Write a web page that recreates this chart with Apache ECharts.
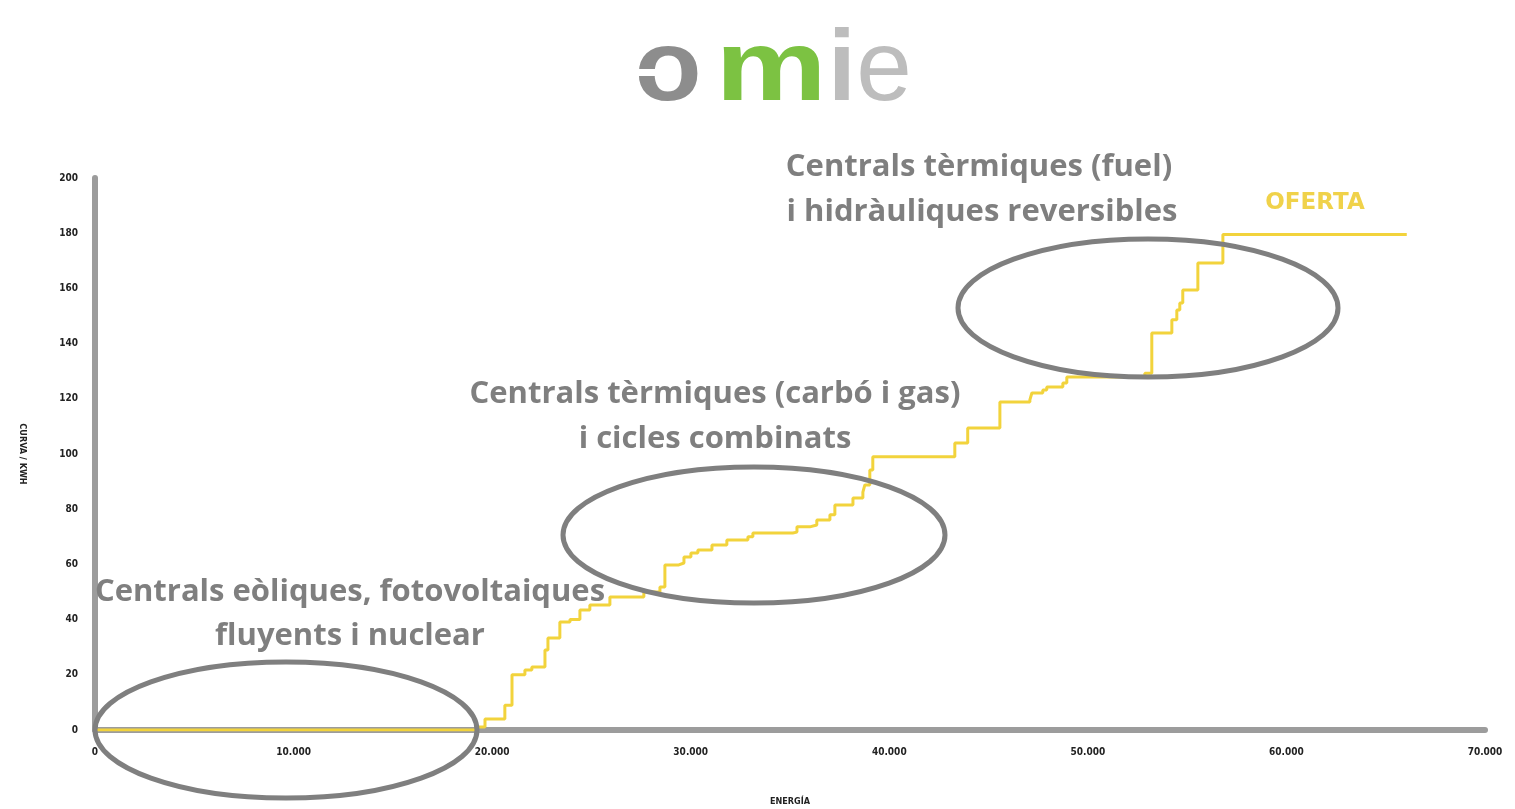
<!DOCTYPE html>
<html>
<head>
<meta charset="utf-8">
<script src="https://cdn.jsdelivr.net/npm/echarts@6/dist/echarts.min.js"></script>
<style>
html,body{margin:0;padding:0;background:#fff;}
#c{width:1515px;height:809px;}
</style>
</head>
<body>
<div id="c"></div>
<script>
// Energy (MWh) where each price level starts
const energy = [0, 19230, 19640, 20640, 21000, 21650, 22000, 22660, 22810, 23410, 23920, 24420, 24920, 25930, 27640, 28450, 28700, 29400, 29660, 30010, 30360, 31070, 31820, 32880, 33130, 35140, 35350, 36000, 36350, 37010, 37260, 38170, 38670, 38770, 39020, 39170, 43300, 43950, 45570, 47080, 47180, 47730, 47930, 48740, 48940, 52870, 53220, 54230, 54480, 54630, 54780, 55540, 56800, 66060];
// Offer price level (curva / kWh)
const price = [0, 1.1, 4, 9, 20, 21.7, 22.8, 29, 33.3, 39.1, 40, 43.5, 45.3, 48.2, 50, 51.8, 59.8, 60.5, 62.7, 64.1, 65.2, 67, 68.8, 70, 71.4, 71.7, 73.6, 74.3, 76.1, 78, 81.5, 84.1, 86.2, 88.8, 94.2, 99, 104, 109.4, 118.8, 119.6, 122.1, 123.2, 124.3, 125.7, 127.9, 129.3, 143.8, 148.6, 152.2, 154.7, 159.4, 169.2, 179.5, 179.5];
const xTicks = [0, 10000, 20000, 30000, 40000, 50000, 60000, 70000];
const yTicks = [0, 20, 40, 60, 80, 100, 120, 140, 160, 180, 200];
const seriesName = 'OFERTA';
const xName = 'ENERGÍA';
const yName = 'CURVA / KWH';
const annotations = [
  ['Centrals eòliques, fotovoltaiques', 'fluyents i nuclear'],
  ['Centrals tèrmiques (carbó i gas)', 'i cicles combinats'],
  ['Centrals tèrmiques (fuel)', 'i hidràuliques reversibles']
];

const points = energy.map((e, i) => [e, price[i]]);
const chart = echarts.init(document.getElementById('c'));
const gray = '#7f7f7f';
const yellow = '#f2d33c';
const annFont = {fontFamily: 'Open Sans', fontWeight: 'bold', fontSize: 31};
function annText(txt, x, y) {
  return {type: 'text', x: x, y: y, z: 100,
    style: Object.assign({text: txt, fill: gray, align: 'center', verticalAlign: 'middle'}, annFont)};
}
function ell(cx, cy, rx, ry) {
  return {type: 'ellipse', z: 90, shape: {cx: cx, cy: cy, rx: rx, ry: ry},
    style: {fill: 'none', stroke: gray, lineWidth: 5}};
}
const logoFont = {fontFamily: 'Liberation Sans', fontSize: 100};
const tickFont = {fontFamily: 'DejaVu Sans Condensed', fontWeight: 'bold', fontSize: 10, color: '#222'};
const option = {
  backgroundColor: '#fff',
  animation: false,
  grid: {left: 95, right: 30, top: 178, bottom: 79, outerBoundsMode: 'none', containLabel: false},
  xAxis: {
    type: 'value', min: xTicks[0], max: xTicks[xTicks.length - 1], interval: 10000,
    offset: 3,
    name: xName, nameLocation: 'middle', nameGap: 64,
    nameTextStyle: {fontFamily: 'DejaVu Sans Condensed', fontWeight: 'bold', fontSize: 9, color: '#222'},
    axisLine: {show: true, lineStyle: {color: '#9c9c9c', width: 6}},
    axisTick: {show: false},
    splitLine: {show: false},
    axisLabel: Object.assign({margin: 14,
      formatter: v => v === 0 ? '0' : (v / 1000).toFixed(0) + '.000'}, tickFont)
  },
  yAxis: {
    type: 'value', min: yTicks[0], max: yTicks[yTicks.length - 1], interval: 20,
    offset: 5,
    name: yName, nameLocation: 'middle', nameGap: 63, nameRotate: -90,
    nameTextStyle: {fontFamily: 'DejaVu Sans Condensed', fontWeight: 'bold', fontSize: 9, color: '#222'},
    axisLine: {show: true, lineStyle: {color: '#9c9c9c', width: 6}},
    axisTick: {show: false},
    splitLine: {show: false},
    axisLabel: Object.assign({margin: 12}, tickFont)
  },
  series: [{
    name: seriesName, type: 'line', step: 'end', data: points, showSymbol: false, z: 5,
    lineStyle: {color: yellow, width: 3}
  }],
  graphic: [
    // logo
    {type: 'text', x: 668, y: 72, scaleX: 1.1, style: Object.assign({text: 'o', fill: '#8d8d8d', fontWeight: 'bold', align: 'center', verticalAlign: 'middle'}, logoFont)},
    {type: 'rect', shape: {x: 630, y: 69, width: 32, height: 7}, style: {fill: '#fff'}, z: 10},
    {type: 'text', x: 771, y: 72, scaleX: 1.25, style: Object.assign({text: 'm', fill: '#7cc242', fontWeight: 'bold', align: 'center', verticalAlign: 'middle'}, logoFont)},
    {type: 'text', x: 842, y: 72, style: Object.assign({text: 'i', fill: '#bdbdbd', fontWeight: 'bold', align: 'center', verticalAlign: 'middle'}, logoFont)},
    {type: 'text', x: 884, y: 72, style: Object.assign({text: 'e', fill: '#bdbdbd', fontWeight: 'normal', align: 'center', verticalAlign: 'middle'}, logoFont)},
    // series label
    {type: 'text', x: 1315, y: 203, z: 100, style: {text: seriesName, fill: '#f0d24a', fontFamily: 'DejaVu Sans', fontWeight: 'bold', fontSize: 23, align: 'center', verticalAlign: 'middle'}},
    // ellipses
    ell(286, 730, 191, 68),
    ell(754, 535, 191, 68),
    ell(1148, 308, 190, 69),
    // annotation texts
    annText(annotations[0][0], 350, 592),
    annText(annotations[0][1], 350, 636),
    annText(annotations[1][0], 715, 394),
    annText(annotations[1][1], 715, 439),
    annText(annotations[2][0], 979, 167),
    annText(annotations[2][1], 982, 212)
  ]
};
chart.setOption(option);
</script>
</body>
</html>
